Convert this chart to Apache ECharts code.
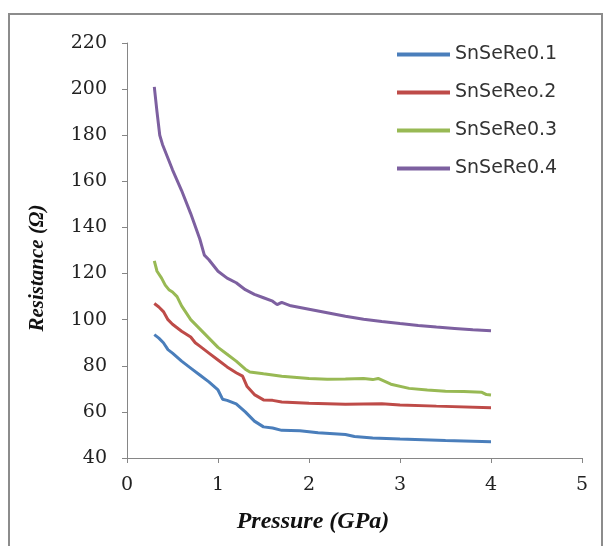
<!DOCTYPE html>
<html>
<head>
<meta charset="utf-8">
<script src="https://cdn.jsdelivr.net/npm/echarts@6/dist/echarts.min.js"></script>
<style>html,body{margin:0;padding:0;background:#fff;}#c{width:611px;height:546px;}</style>
</head>
<body>
<div id="c"></div>
<script>
const seriesNames = ['SnSeRe0.1', 'SnSeReo.2', 'SnSeRe0.3', 'SnSeRe0.4'];
const xTicks = [0, 1, 2, 3, 4, 5];
const yTicks = [40, 60, 80, 100, 120, 140, 160, 180, 200, 220];

const re01 = [[0.30,93.5],[0.35,92],[0.40,90],[0.45,87],[0.50,85.5],[0.60,82],[0.70,79],[0.80,76],[0.90,73],[1.00,69.5],[1.05,65.5],[1.10,65],[1.20,63.5],[1.30,60],[1.40,56],[1.50,53.5],[1.60,53],[1.70,52],[1.90,51.8],[2.10,51],[2.40,50.2],[2.50,49.3],[2.70,48.7],[3.00,48.2],[3.50,47.6],[4.00,47.1]];
const re02 = [[0.30,107],[0.35,105.5],[0.40,103.5],[0.45,100],[0.50,98],[0.60,95],[0.70,92.5],[0.75,90],[0.80,88.5],[0.90,85.5],[1.00,82.5],[1.10,79.5],[1.20,77],[1.27,75.5],[1.32,71],[1.40,67.5],[1.50,65.2],[1.60,65],[1.70,64.3],[2.00,63.7],[2.40,63.3],[2.80,63.5],[3.00,63],[3.40,62.5],[4.00,61.8]];
const re03 = [[0.30,125.5],[0.33,121],[0.38,118],[0.42,115],[0.46,113],[0.50,112],[0.55,110],[0.60,106],[0.70,100],[0.80,96],[0.90,92],[1.00,88],[1.10,85],[1.20,82],[1.30,78.5],[1.35,77.3],[1.50,76.5],[1.70,75.5],[2.00,74.5],[2.20,74.2],[2.40,74.3],[2.60,74.5],[2.70,74.0],[2.76,74.5],[2.90,72],[3.10,70.2],[3.30,69.5],[3.50,69],[3.70,68.8],[3.90,68.5],[3.95,67.5],[4.00,67.3]];
const re04 = [[0.30,201],[0.33,190],[0.36,180],[0.39,176],[0.45,170],[0.50,165],[0.60,156],[0.70,146],[0.80,135],[0.85,128],[0.90,126],[1.00,121],[1.10,118],[1.20,116],[1.30,113],[1.40,111],[1.50,109.5],[1.60,108],[1.65,106.5],[1.70,107.5],[1.80,106],[2.00,104.5],[2.20,103],[2.40,101.5],[2.60,100.2],[2.80,99.2],[3.00,98.3],[3.20,97.5],[3.40,96.8],[3.60,96.2],[3.80,95.6],[4.00,95.2]];

const colors = ['#4a7ebb', '#be4b48', '#98b954', '#7d60a0'];
const allData = [re01, re02, re03, re04];

const chart = echarts.init(document.getElementById('c'), null, {renderer: 'canvas'});
const axisLine = {show: true, lineStyle: {color: '#868686', width: 1}};
const option = {
  backgroundColor: '#fff',
  animation: false,
  color: colors,
  grid: {left: 127, right: 29, top: 43, bottom: 88, containLabel: false},
  graphic: [
    {type: 'rect', shape: {x: 9, y: 14, width: 593, height: 540}, style: {fill: 'none', stroke: '#8c8c8c', lineWidth: 2}, silent: true},
    {type: 'text', x: 313, y: 522, style: {text: 'Pressure (GPa)', font: 'italic bold 24px "Liberation Serif"', fill: '#111', textAlign: 'center', textVerticalAlign: 'middle'}},
    {type: 'text', x: 38, y: 268, rotation: Math.PI / 2, style: {text: 'Resistance (Ω)', font: 'italic bold 21px "Liberation Serif"', fill: '#111', textAlign: 'center', textVerticalAlign: 'middle'}}
  ],
  legend: {
    orient: 'vertical', left: 392, top: 40,
    itemWidth: 53, itemHeight: 4, itemGap: 19,
    icon: 'rect',
    textStyle: {fontFamily: 'DejaVu Sans', fontSize: 19, color: '#333', lineHeight: 18},
    data: seriesNames
  },
  xAxis: {
    type: 'value', min: xTicks[0], max: xTicks[xTicks.length - 1], interval: 1,
    axisLine: axisLine,
    axisTick: {show: true, length: 5, lineStyle: {color: '#868686'}},
    axisLabel: {fontFamily: 'DejaVu Serif', fontSize: 19, color: '#222', margin: 18},
    splitLine: {show: false}
  },
  yAxis: {
    type: 'value', min: yTicks[0], max: yTicks[yTicks.length - 1], interval: 20,
    axisLine: axisLine,
    axisTick: {show: true, length: 5, lineStyle: {color: '#868686'}},
    axisLabel: {fontFamily: 'DejaVu Serif', fontSize: 19, color: '#222', margin: 20},
    splitLine: {show: false}
  },
  series: seriesNames.map((n, i) => ({
    name: n, type: 'line', data: allData[i], showSymbol: false, symbol: 'none',
    lineStyle: {width: 3, color: colors[i]}, itemStyle: {color: colors[i]}
  }))
};
chart.setOption(option);
</script>
</body>
</html>
